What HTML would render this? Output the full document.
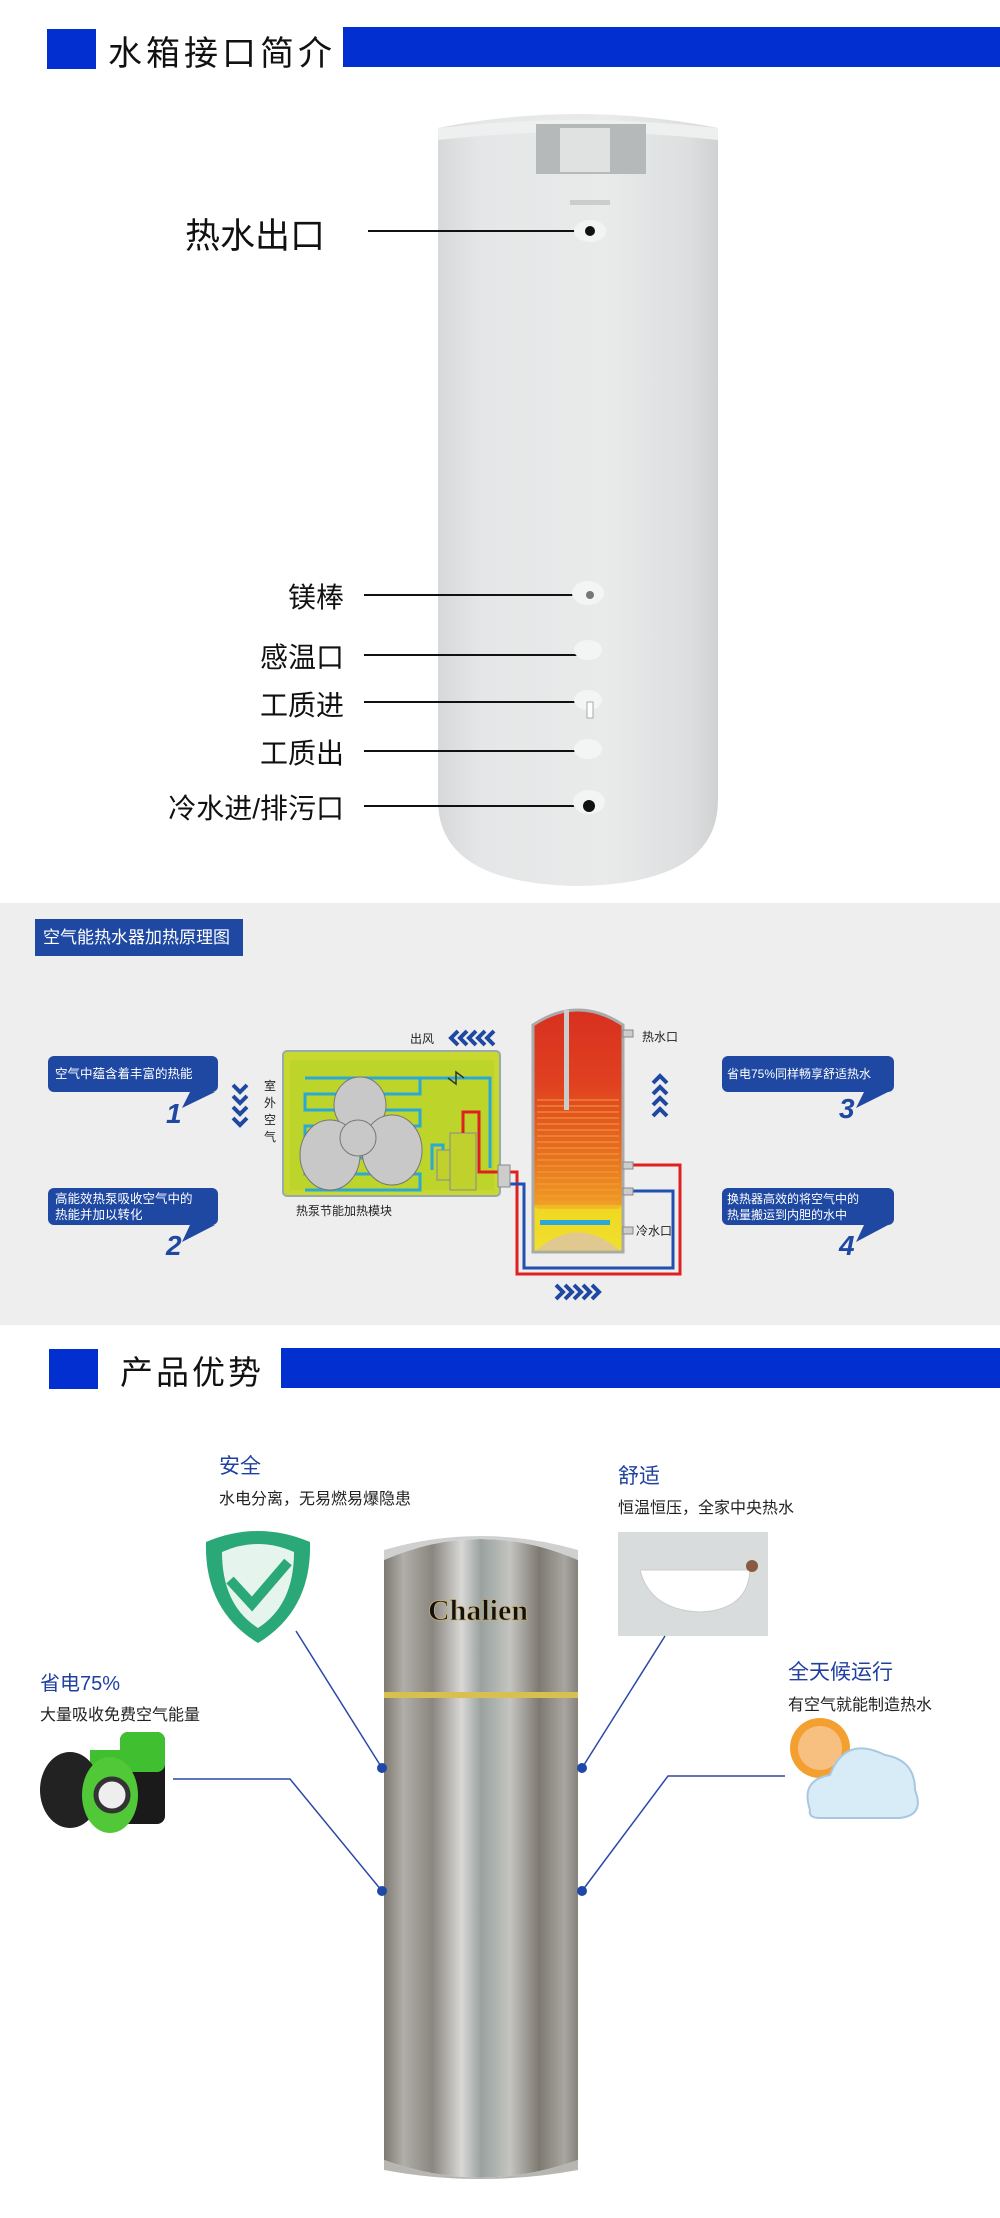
<!DOCTYPE html>
<html><head><meta charset="utf-8"><style>
*{margin:0;padding:0;box-sizing:border-box}
body{width:1000px;height:2218px;background:#fff;position:relative;overflow:hidden;font-family:"Liberation Sans","Noto Sans CJK SC",sans-serif}
.a{position:absolute;white-space:nowrap}
.lbl{font-size:28px;color:#111;text-align:right;width:300px;left:44px}
.bub{position:absolute;background:#1f48a3;color:#fff;font-size:12.5px;line-height:16px;padding:0 7px;border-radius:6px;display:flex;align-items:center;white-space:nowrap}
.num{position:absolute;color:#1f48a3;font-weight:bold;font-size:28px;font-style:italic}
</style></head><body>
<div class="a" style="left:47px;top:29px;width:49px;height:40px;background:#0230d0"></div>
<div class="a" style="left:108px;top:26px;font-size:34px;letter-spacing:4px;color:#111">水箱接口简介</div>
<div class="a" style="left:343px;top:27px;width:657px;height:40px;background:#0230d0"></div>

<svg class="a" style="left:0;top:0" width="1000" height="900">
<defs><linearGradient id="wt" x1="0" x2="1"><stop offset="0" stop-color="#d6d8d9"/><stop offset=".15" stop-color="#e4e6e7"/><stop offset=".6" stop-color="#e9ebeb"/><stop offset=".9" stop-color="#dcdedf"/><stop offset="1" stop-color="#cfd1d2"/></linearGradient></defs>
<path d="M438 128 Q578 100 718 128 L718 800 Q718 884 578 886 Q438 884 438 800 Z" fill="url(#wt)"/>
<path d="M438 128 Q578 112 718 128 L718 140 Q578 124 438 140Z" fill="#eef0f0"/>
<rect x="536" y="124" width="110" height="50" fill="#b5b9ba"/>
<rect x="560" y="128" width="50" height="44" fill="#e0e2e2"/>
<line x1="368" y1="231" x2="588" y2="231" stroke="#111" stroke-width="2"/>
<ellipse cx="590" cy="231" rx="16" ry="11" fill="#f2f3f3"/><circle cx="590" cy="231" r="5" fill="#111"/>
<rect x="570" y="200" width="40" height="5" fill="#ccc"/>
<g stroke="#111" stroke-width="2">
<line x1="364" y1="595" x2="588" y2="595"/><line x1="364" y1="655" x2="590" y2="655"/>
<line x1="364" y1="702" x2="590" y2="702"/><line x1="364" y1="751" x2="590" y2="751"/>
<line x1="364" y1="806" x2="590" y2="806"/></g>
<g fill="#f3f4f4"><ellipse cx="588" cy="593" rx="16" ry="12"/><ellipse cx="588" cy="650" rx="14" ry="10"/><ellipse cx="588" cy="700" rx="14" ry="10"/><ellipse cx="588" cy="749" rx="14" ry="10"/><ellipse cx="589" cy="802" rx="16" ry="12"/></g>
<circle cx="590" cy="595" r="4" fill="#777"/><circle cx="589" cy="806" r="6" fill="#111"/><rect x="587" y="702" width="6" height="16" fill="#fff" stroke="#aaa"/>
</svg>
<div class="a" style="left:185px;top:208px;font-size:35px;color:#111">热水出口</div>
<div class="a lbl" style="top:576px">镁棒</div>
<div class="a lbl" style="top:636px">感温口</div>
<div class="a lbl" style="top:684px">工质进</div>
<div class="a lbl" style="top:732px">工质出</div>
<div class="a lbl" style="top:787px">冷水进/排污口</div>

<div class="a" style="left:0;top:903px;width:1000px;height:422px;background:#eeeeee"></div>
<div class="a" style="left:35px;top:919px;width:208px;height:37px;background:#1f48a3;color:#fff;font-size:17px;line-height:37px;padding-left:8px">空气能热水器加热原理图</div>
<div class="bub" style="left:48px;top:1056px;width:170px;height:36px">空气中蕴含着丰富的热能</div>
<div class="num" style="left:166px;top:1098px">1</div>
<div class="bub" style="left:48px;top:1188px;width:170px;height:37px">高能效热泵吸收空气中的<br>热能并加以转化</div>
<div class="num" style="left:166px;top:1230px">2</div>
<div class="bub" style="left:722px;top:1056px;width:172px;height:36px;font-size:12px;padding:0 5px">省电75%同样畅享舒适热水</div>
<div class="num" style="left:839px;top:1093px">3</div>
<div class="bub" style="left:722px;top:1188px;width:172px;height:37px;font-size:12px;padding:0 5px">换热器高效的将空气中的<br>热量搬运到内胆的水中</div>
<div class="num" style="left:839px;top:1230px">4</div>
<svg class="a" style="left:0;top:900px" width="1000" height="425">
<defs><linearGradient id="tk" x1="0" y1="0" x2="0" y2="1"><stop offset="0" stop-color="#d83020"/><stop offset=".3" stop-color="#e04020"/><stop offset=".6" stop-color="#e87020"/><stop offset=".8" stop-color="#f09a20"/><stop offset=".82" stop-color="#f0d820"/><stop offset="1" stop-color="#f0e030"/></linearGradient></defs>
<g fill="#1f48a3"><path d="M190 192 L215 192 L182 208Z"/><path d="M190 325 L215 325 L182 342Z"/><path d="M864 192 L888 192 L856 208Z"/><path d="M864 325 L888 325 L856 342Z"/></g>
<g fill="none" stroke="#1f48a3" stroke-width="4"><path d="M233 185 l7 7 l7-7M233 196 l7 7 l7-7M233 207 l7 7 l7-7M233 218 l7 7 l7-7"/>
<path d="M653 183 l7-7 l7 7M653 194 l7-7 l7 7M653 205 l7-7 l7 7M653 216 l7-7 l7 7"/>
<path d="M458 131 l-7 7 l7 7M467 131 l-7 7 l7 7M476 131 l-7 7 l7 7M485 131 l-7 7 l7 7M494 131 l-7 7 l7 7"/>
<path d="M556 385 l7 7 l-7 7M565 385 l7 7 l-7 7M574 385 l7 7 l-7 7M583 385 l7 7 l-7 7M592 385 l7 7 l-7 7"/></g>
<rect x="283" y="151" width="217" height="145" rx="4" fill="#c8d830" stroke="#9aa" stroke-width="2"/>
<rect x="290" y="160" width="204" height="130" fill="#bdd42a"/>
<g fill="none" stroke="#2aa8d8" stroke-width="3">
<path d="M305 178 H420 v16 H305 v16 H420 v16 H305 v16 H420 v16 H305 v16 H420 v16 H305"/><path d="M420 178 H490 V268"/>
<path d="M432 270 V245 H443 V265"/></g>
<path d="M448 178 l8 6 v-12 l8 6" fill="none" stroke="#333" stroke-width="1.5"/>
<g fill="#c8c8c8" stroke="#777"><ellipse cx="360" cy="205" rx="26" ry="28"/><ellipse cx="330" cy="255" rx="30" ry="35"/><ellipse cx="392" cy="250" rx="30" ry="35"/><circle cx="358" cy="238" r="18"/></g>
<rect x="450" y="233" width="26" height="57" fill="#c0d02c" stroke="#889"/><rect x="437" y="250" width="13" height="30" fill="#c0d02c" stroke="#889"/>
<path d="M463 233 V212 H479 V272 H500" fill="none" stroke="#e02020" stroke-width="3"/>
<path d="M500 272 H517 V374 H680 V265 H623" fill="none" stroke="#e02020" stroke-width="3"/>
<path d="M500 284 H524 V368 H673 V291 H623" fill="none" stroke="#2050b0" stroke-width="3"/>
<rect x="498" y="265" width="12" height="22" fill="#ccc" stroke="#888"/>
<path d="M533 125 Q578 95 623 125 V352 H533Z" fill="url(#tk)" stroke="#aaa" stroke-width="3"/>
<g stroke="#f0a040" stroke-width="1.2" opacity=".8"><path d="M537 200H619M537 206H619M537 212H619M537 218H619M537 224H619M537 230H619M537 236H619M537 242H619M537 248H619M537 254H619M537 260H619M537 266H619M537 272H619M537 278H619M537 284H619M537 290H619M537 296H619M537 302H619M537 308H619"/></g>
<rect x="564" y="110" width="5" height="100" fill="#ccc"/>
<rect x="540" y="320" width="70" height="5" fill="#2aa8d8"/>
<path d="M537 350 Q578 315 619 350Z" fill="#e0c890"/>
<g fill="#ccc" stroke="#888"><rect x="623" y="130" width="10" height="7"/><rect x="623" y="262" width="10" height="7"/><rect x="623" y="288" width="10" height="7"/><rect x="623" y="327" width="10" height="7"/></g>
</svg>
<div class="a" style="left:410px;top:1030px;font-size:12px;color:#222">出风</div>
<div class="a" style="left:642px;top:1028px;font-size:12px;color:#222">热水口</div>
<div class="a" style="left:636px;top:1222px;font-size:12px;color:#222">冷水口</div>
<div class="a" style="left:264px;top:1078px;font-size:12px;color:#222;width:14px;line-height:17px;white-space:normal">室外空气</div>
<div class="a" style="left:296px;top:1202px;font-size:12px;color:#222">热泵节能加热模块</div>

<div class="a" style="left:49px;top:1349px;width:49px;height:40px;background:#0230d0"></div>
<div class="a" style="left:120px;top:1346px;font-size:33px;letter-spacing:3px;color:#111">产品优势</div>
<div class="a" style="left:281px;top:1348px;width:719px;height:40px;background:#0230d0"></div>

<svg class="a" style="left:0;top:1500px" width="1000" height="718">
<defs><linearGradient id="ss" x1="0" x2="1"><stop offset="0" stop-color="#7d7a72"/><stop offset=".1" stop-color="#b0aea8"/><stop offset=".25" stop-color="#8a8680"/><stop offset=".4" stop-color="#d8d8d6"/><stop offset=".5" stop-color="#9aa2a0"/><stop offset=".65" stop-color="#c4c4c0"/><stop offset=".8" stop-color="#7e7a72"/><stop offset=".93" stop-color="#a8a6a0"/><stop offset="1" stop-color="#85827a"/></linearGradient></defs>
<path d="M384 60 Q480 18 578 60 V660 Q480 695 384 660Z" fill="url(#ss)"/>
<path d="M384 60 Q480 18 578 60 L578 50 Q480 22 384 50Z" fill="#d0d0d0"/>
<path d="M384 660 Q480 695 578 660 V670 Q480 688 384 670Z" fill="#b8b6b0"/>
<rect x="384" y="192" width="194" height="6" fill="#d8c050"/>
<text x="478" y="120" text-anchor="middle" font-family="Liberation Serif" font-weight="bold" font-size="30" fill="#111" stroke="#c8b070" stroke-width=".8">Chalien</text>
<path d="M206 42 Q258 20 310 42 Q312 110 258 143 Q204 110 206 42Z" fill="#2aa878"/>
<path d="M222 52 Q258 36 294 52 Q294 105 258 128 Q222 105 222 52Z" fill="#e6f4ee"/>
<path d="M230 80 L252 104 L288 62" fill="none" stroke="#2aa878" stroke-width="10"/>
<rect x="618" y="32" width="150" height="104" fill="#d8dcdd"/>
<path d="M640 70 H750 Q748 110 700 112 Q650 110 640 70Z" fill="#fff" stroke="#ccc"/>
<circle cx="752" cy="66" r="6" fill="#8a5a40"/>
<rect x="120" y="232" width="45" height="92" rx="8" fill="#1a1a1a"/><rect x="120" y="232" width="45" height="40" rx="8" fill="#40c030"/>
<rect x="90" y="250" width="35" height="70" rx="6" fill="#2a2a2a"/><rect x="90" y="250" width="35" height="30" fill="#40c030"/>
<ellipse cx="70" cy="290" rx="30" ry="38" fill="#222"/><ellipse cx="110" cy="295" rx="28" ry="38" fill="#50c838"/><circle cx="112" cy="295" r="16" fill="#eee" stroke="#333" stroke-width="5"/>
<circle cx="820" cy="248" r="30" fill="#f4a030"/><circle cx="820" cy="248" r="22" fill="#f8c080"/>
<path d="M810 310 Q800 280 830 275 Q845 235 885 255 Q915 260 915 290 Q925 315 900 318 H820 Q808 318 810 310Z" fill="#d8ecf8" stroke="#a8c8e0" stroke-width="2"/>
<g stroke="#2a48a8" stroke-width="1.5" fill="none">
<path d="M296 131 L382 268"/><path d="M173 279 H290 L382 391"/>
<path d="M665 136 L582 268"/><path d="M785 276 H668 L582 391"/></g>
<g fill="#1f48a8"><circle cx="382" cy="268" r="5"/><circle cx="382" cy="391" r="5"/><circle cx="582" cy="268" r="5"/><circle cx="582" cy="391" r="5"/></g>
</svg>
<div class="a" style="left:219px;top:1450px;font-size:21px;color:#2040a0">安全</div>
<div class="a" style="left:219px;top:1485px;font-size:16px;color:#222">水电分离，无易燃易爆隐患</div>
<div class="a" style="left:618px;top:1460px;font-size:21px;color:#2040a0">舒适</div>
<div class="a" style="left:618px;top:1494px;font-size:16px;color:#222">恒温恒压，全家中央热水</div>
<div class="a" style="left:40px;top:1667px;font-size:20px;color:#2040a0">省电75%</div>
<div class="a" style="left:40px;top:1701px;font-size:16px;color:#222">大量吸收免费空气能量</div>
<div class="a" style="left:788px;top:1656px;font-size:21px;color:#2040a0">全天候运行</div>
<div class="a" style="left:788px;top:1691px;font-size:16px;color:#222">有空气就能制造热水</div>
</body></html>
